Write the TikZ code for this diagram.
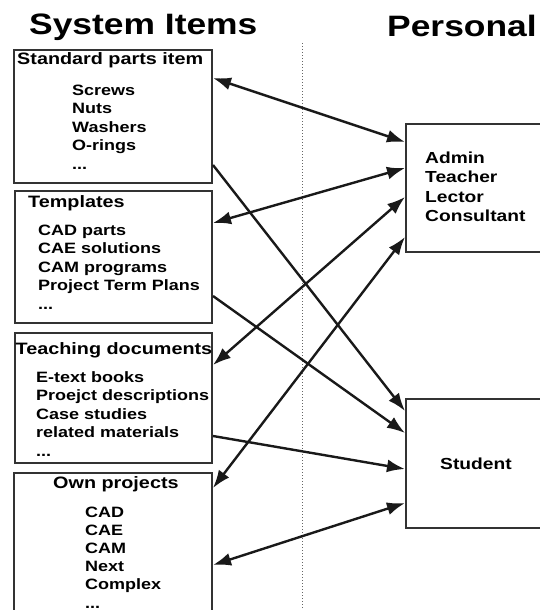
\documentclass[tikz,border=0pt]{standalone}
\usepackage{fontspec}
\setmainfont{Liberation Sans}[FakeStretch=1.2]
\usetikzlibrary{arrows.meta}
\begin{document}
\begin{tikzpicture}[x=1pt, y=-1pt]
    \tikzstyle{link} = [-{Latex[length=18pt,width=13pt]}, line width=2.4pt, black!90]
    \tikzstyle{dlink} = [{Latex[length=18pt,width=13pt]}-{Latex[length=18pt,width=13pt]},
        line width=2.4pt, black!90]
    \tikzstyle{box} = [rectangle, draw=black!80, line width=2pt, inner sep=0pt]
    \tikzstyle{head} = [inner sep=0pt, font=\bfseries\fontsize{29.5}{32}\selectfont]
    \tikzstyle{title} = [inner sep=0pt, font=\bfseries\fontsize{16.5}{19}\selectfont]
    \tikzstyle{list} = [inner sep=0pt, align=left,
        font=\bfseries\fontsize{15}{18.6}\selectfont]
    \tikzstyle{people} = [inner sep=0pt, align=left,
        font=\bfseries\fontsize{16}{19.6}\selectfont]

    \clip (0,0) rectangle (540,610);

    \node(sysitems) [head] at (29,35) [anchor=base west] {System Items};
    \node(personal) [head] at (387,37) [anchor=base west] {Personal};

    \coordinate (divtop) at (302,43);
    \coordinate (divbot) at (302,612);
    \draw[dotted, line width=1pt, black!60] (divtop) -- (divbot);

    % system item boxes (lists are placed by their last baseline)
    \node(std) [box, minimum width=198pt, minimum height=133pt]
        at (13,49) [anchor=north west] {};
    \node(stdtitle) [title] at (17,65) [anchor=base west]
        {Standard parts item};
    \node(stdlist) [list] at (72,169.4) [anchor=base west]
        {Screws\\ Nuts\\ Washers\\ O-rings\\ ...};

    \node(tpl) [box, minimum width=197pt, minimum height=132pt]
        at (14,190) [anchor=north west] {};
    \node(tpltitle) [title] at (28,207) [anchor=base west] {Templates};
    \node(tpllist) [list] at (38,309.4) [anchor=base west]
        {CAD parts\\ CAE solutions\\ CAM programs\\ Project Term Plans\\ ...};

    \node(doc) [box, minimum width=197pt, minimum height=130pt]
        at (14,332) [anchor=north west] {};
    \node(doctitle) [title] at (15.5,354) [anchor=base west]
        {Teaching documents};
    \node(doclist) [list] at (36,456.4) [anchor=base west]
        {E-text books\\ Proejct descriptions\\ Case studies\\
        related materials\\ ...};

    \node(own) [box, minimum width=198pt, minimum height=160pt]
        at (13,472) [anchor=north west] {};
    \node(owntitle) [title] at (53,488) [anchor=base west] {Own projects};
    \node(ownlist) [list, font=\bfseries\fontsize{15}{18.2}\selectfont]
        at (85,608) [anchor=base west]
        {CAD\\ CAE\\ CAM\\ Next\\ Complex\\ ...};

    % personal boxes
    \node(admin) [box, minimum width=160pt, minimum height=128pt]
        at (405,123) [anchor=north west] {};
    \node(adminlist) [people] at (425,221.8) [anchor=base west]
        {Admin\\ Teacher\\ Lector\\ Consultant};

    \node(student) [box, minimum width=160pt, minimum height=129pt]
        at (405,398) [anchor=north west] {};
    \node(studtext) [people] at (440,469) [anchor=base west] {Student};

    % connections
    \draw[dlink] ([yshift=-29pt]std.north east) -- ([yshift=-19pt]admin.north west);
    \draw[link] ([yshift=-116pt]std.north east) -- ([yshift=-13pt]student.north west);
    \draw[dlink] ([yshift=-33pt]tpl.north east) -- ([yshift=-45pt]admin.north west);
    \draw[link] ([yshift=-106pt]tpl.north east) -- ([yshift=-35pt]student.north west);
    \draw[dlink] ([yshift=-33pt]doc.north east) -- ([yshift=-74pt]admin.north west);
    \draw[link] ([yshift=-104pt]doc.north east) -- ([yshift=-71pt]student.north west);
    \draw[dlink] ([yshift=-16pt]own.north east) -- ([yshift=-114pt]admin.north west);
    \draw[dlink] ([yshift=-93pt]own.north east) -- ([yshift=-105pt]student.north west);
\end{tikzpicture}
\end{document}
